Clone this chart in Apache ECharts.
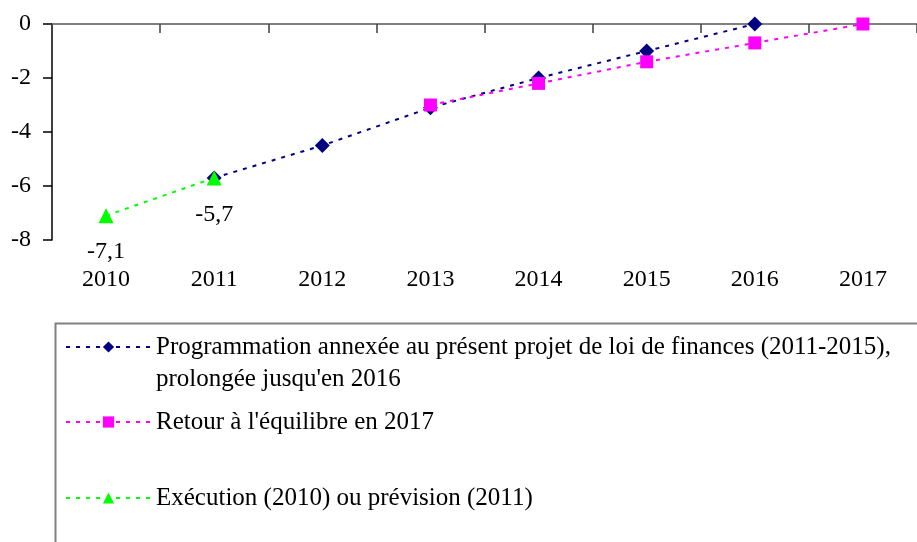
<!DOCTYPE html>
<html>
<head>
<meta charset="utf-8">
<script src="https://cdn.jsdelivr.net/npm/echarts@6/dist/echarts.min.js"></script>
<style>html,body{margin:0;padding:0;background:#fff;}#c{width:917px;height:542px;}</style>
</head>
<body>
<div id="c"></div>
<script>
const years = ['2010','2011','2012','2013','2014','2015','2016','2017'];
const programmation = [null, -5.7, -4.5, -3.1, -2.0, -1.0, 0, null];
const retour = [null, null, null, -3.0, -2.2, -1.4, -0.7, 0];
const execution = [-7.1, -5.7, null, null, null, null, null, null];
const yTicks = [0, -2, -4, -6, -8];
const names = [
  "Programmation annexée au présent projet de loi de finances (2011-2015), prolongée jusqu'en 2016",
  "Retour à l'équilibre en 2017",
  "Exécution (2010) ou prévision (2011)"
];

const FONT = '"Liberation Serif", "Times New Roman", serif';
const chart = echarts.init(document.getElementById('c'));
const legendBase = {
  orient: 'vertical', left: 65, padding: 0, itemWidth: 85, itemHeight: 14, itemGap: 0,
  selectedMode: false,
  textStyle: { fontFamily: FONT, fontSize: 25, color: '#000', lineHeight: 32 }
};
chart.setOption({
  animation: false,
  backgroundColor: '#fff',
  grid: { left: 52, top: 24, width: 876, height: 216, containLabel: false },
  xAxis: [
    { type: 'category', data: years, position: 'top', boundaryGap: true,
      axisLine: { show: true, onZero: false, lineStyle: { color: '#808080', width: 2 } },
      axisTick: { show: true, inside: true, length: 9, lineStyle: { color: '#404040', width: 1.5 } },
      axisLabel: { show: false }, splitLine: { show: false } },
    { type: 'category', data: years, position: 'bottom', boundaryGap: true,
      axisLine: { show: false }, axisTick: { show: false }, splitLine: { show: false },
      axisLabel: { show: true, margin: 28, fontFamily: FONT, fontSize: 24, color: '#000' } }
  ],
  yAxis: {
    type: 'value', min: -8, max: 0, interval: 2,
    axisLine: { show: true, onZero: false, lineStyle: { color: '#000', width: 1.5 } },
    axisTick: { show: true, length: 9, lineStyle: { color: '#000', width: 1.5 } },
    splitLine: { show: false },
    axisLabel: { margin: 21, fontFamily: FONT, fontSize: 24, color: '#000',
      formatter: v => yTicks.includes(v) ? String(v) : '' }
  },
  legend: [
    Object.assign({}, legendBase, { top: 299, data: [names[0]],
      formatter: n => ' \n' + n.replace('(2011-2015), ', '(2011-2015),\n') }),
    Object.assign({}, legendBase, { top: 406, data: [names[1]] }),
    Object.assign({}, legendBase, { top: 482, data: [names[2]] })
  ],
  graphic: [
    { type: 'rect', shape: { x: 55.5, y: 323.5, width: 900, height: 300 },
      style: { fill: 'none', stroke: '#808080', lineWidth: 2 }, silent: true, z: -1 }
  ],
  series: [
    { name: names[0], type: 'line', data: programmation, connectNulls: false,
      symbol: 'diamond', symbolSize: 15,
      itemStyle: { color: '#000080' },
      lineStyle: { color: '#000080', width: 2, type: [4, 6] } },
    { name: names[1], type: 'line', data: retour,
      symbol: 'rect', symbolSize: 13,
      itemStyle: { color: '#FF00FF' },
      lineStyle: { color: '#FF00FF', width: 2, type: [4, 6] } },
    { name: names[2], type: 'line', data: execution,
      symbol: 'triangle', symbolSize: 15,
      itemStyle: { color: '#00FF00' },
      lineStyle: { color: '#00FF00', width: 2, type: [4, 6] },
      label: { show: true, position: 'bottom', distance: 17, fontFamily: FONT, fontSize: 24, color: '#000',
        formatter: p => String(p.value).replace('.', ',') } }
  ]
});
</script>
</body>
</html>
